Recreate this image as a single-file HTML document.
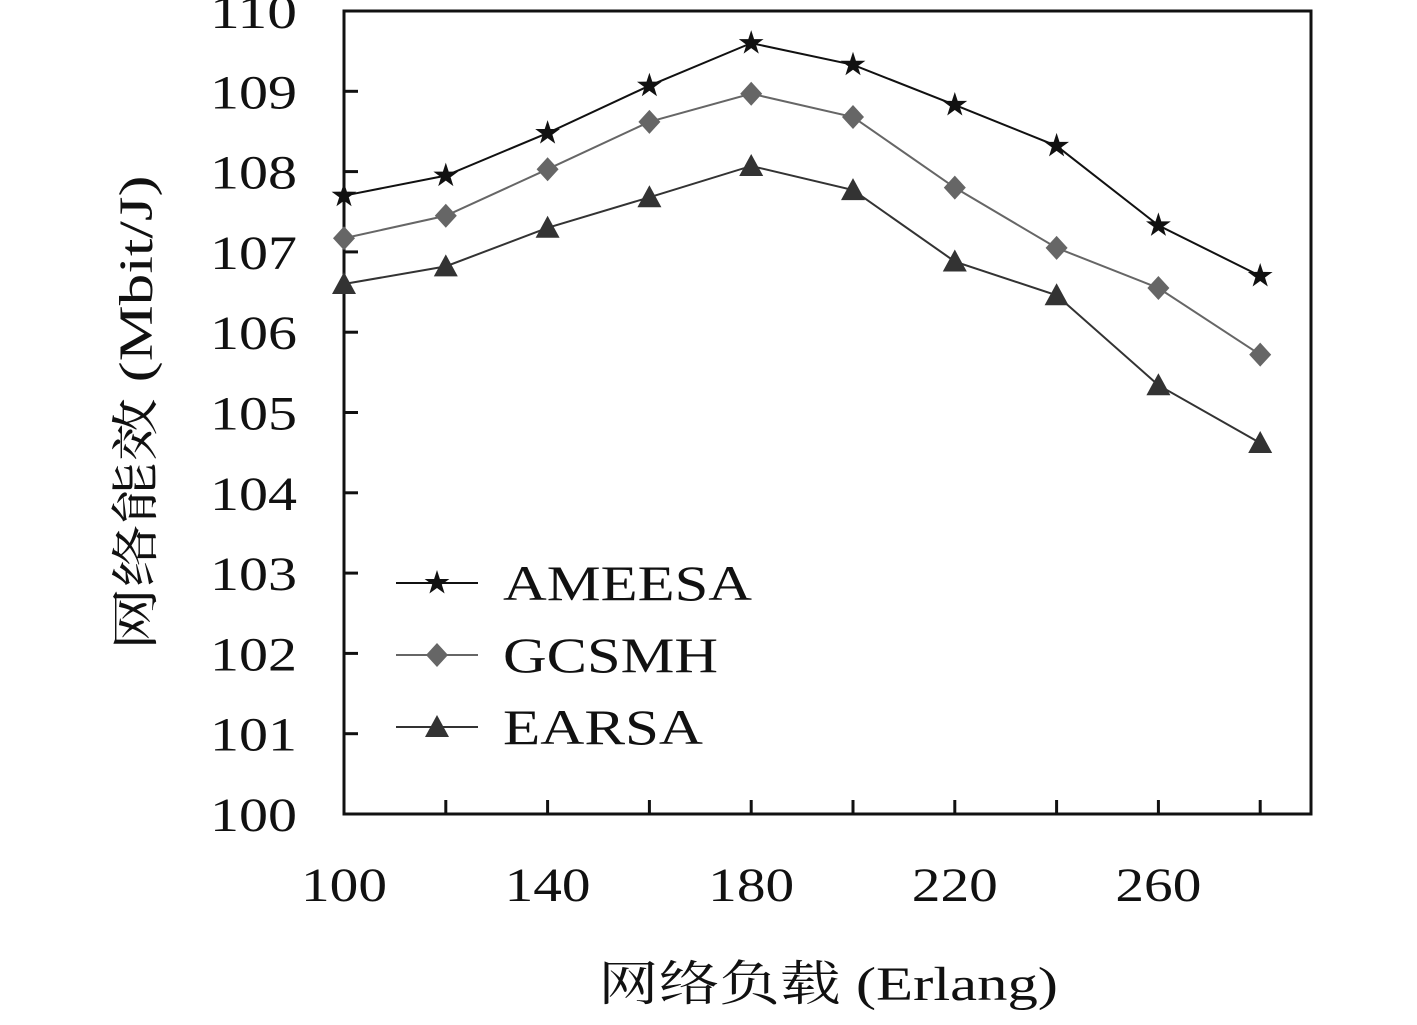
<!DOCTYPE html>
<html><head><meta charset="utf-8"><style>
body{margin:0;background:#fff}
svg text{font-family:"Liberation Serif","Noto Serif CJK SC","Noto Sans CJK SC",serif;fill:#111}
</style></head><body>
<svg id="c" width="1417" height="1020" xmlns="http://www.w3.org/2000/svg"></svg>
<script>
const categories=[100,120,140,160,180,200,220,240,260,280];
const ameesa=[107.7,107.95,108.48,109.07,109.6,109.33,108.83,108.32,107.33,106.7];
const gcsmh=[107.17,107.45,108.03,108.62,108.97,108.68,107.8,107.05,106.55,105.72];
const earsa=[106.6,106.82,107.3,107.68,108.07,107.77,106.88,106.46,105.34,104.62];
const xTicks=[100,120,140,160,180,200,220,240,260,280];
const xLabels=[100,140,180,220,260];
const yTicks=[100,101,102,103,104,105,106,107,108,109,110];
const L=344,R=1311,T=11,B=814;
const X=v=>L+(v-100)/20*101.8;
const Y=v=>B-(v-100)*80.3;
const svg=document.getElementById('c');
const NS='http://www.w3.org/2000/svg';
function mk(t,a,p){const e=document.createElementNS(NS,t);for(const k in a)e.setAttribute(k,a[k]);(p||svg).appendChild(e);return e;}
const frame=mk('rect',{x:L,y:T,width:R-L,height:B-T,fill:'none',stroke:'#111','stroke-width':3});


xTicks.forEach(v=>{const t=mk('line',{x1:X(v),x2:X(v),y1:B,y2:B-14,stroke:'#111','stroke-width':3});

});
xLabels.forEach(v=>{const t=mk('text',{x:X(v),y:901,'font-size':48,'text-anchor':'middle',textLength:86,lengthAdjust:'spacingAndGlyphs'});t.textContent=v;

});
yTicks.forEach(v=>{const t=mk('line',{x1:L,x2:L+14,y1:Y(v),y2:Y(v),stroke:'#111','stroke-width':3});


const l=mk('text',{x:297,y:Y(v)+17,'font-size':48,'text-anchor':'end',textLength:87,lengthAdjust:'spacingAndGlyphs'});l.textContent=v;

});
const xt=mk('text',{x:828,y:1000,'font-size':48,'text-anchor':'middle',textLength:460,lengthAdjust:'spacingAndGlyphs'});xt.textContent='网络负载 (Erlang)';


const yt=mk('text',{x:0,y:0,'font-size':48,'text-anchor':'middle',textLength:475,lengthAdjust:'spacingAndGlyphs',transform:'translate(152,413) rotate(-90)'});yt.textContent='网络能效 (Mbit/J)';


function marker(type,x,y,col,g){
 if(type==='star'){let p=[];for(let i=0;i<10;i++){const r=i%2?5:13,a=-Math.PI/2+i*Math.PI/5;p.push((x+r*Math.cos(a)).toFixed(1)+','+(y+r*Math.sin(a)).toFixed(1));}
  return mk('polygon',{points:p.join(' '),fill:col},g);}
 if(type==='diamond')return mk('polygon',{points:`${x},${y-12} ${x+11},${y} ${x},${y+12} ${x-11},${y}`,fill:col},g);
 return mk('polygon',{points:`${x},${y-12} ${x+12},${y+10} ${x-12},${y+10}`,fill:col},g);
}
const series=[['AMEESA',ameesa,'#111','star',249],['GCSMH',gcsmh,'#666','diamond',215],['EARSA',earsa,'#333','tri',200]];
series.forEach(([name,d,col,m,w],si)=>{
 const g=mk('g',{});
 
 
 mk('polyline',{points:d.map((v,i)=>X(categories[i])+','+Y(v)).join(' '),fill:'none',stroke:col,'stroke-width':2},g);
 d.forEach((v,i)=>{const p=marker(m,X(categories[i]),Y(v),col,g);
  
  });
 const ly=583+si*72;
 const lg=mk('g',{});
 
 
 mk('line',{x1:396,x2:478,y1:ly,y2:ly,stroke:col,'stroke-width':2},lg);
 marker(m,437,ly,col,lg);
 const t=mk('text',{x:503,y:ly+17,'font-size':50,textLength:w,lengthAdjust:'spacingAndGlyphs'},lg);t.textContent=name;
});
</script>
</body></html>
